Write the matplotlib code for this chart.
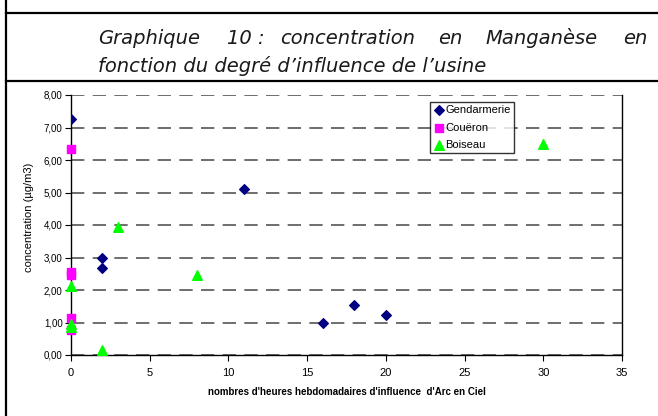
import numpy as np
import matplotlib.pyplot as plt
from matplotlib.lines import Line2D

# data
gend_x = [0, 2, 2, 11, 16, 18, 20]
gend_y = [7.25, 3.00, 2.68, 5.12, 1.00, 1.55, 1.22]
coue_x = [0, 0, 0, 0, 0]
coue_y = [6.35, 2.55, 2.45, 1.15, 0.78]
bois_x = [0, 0, 0, 2, 3, 8, 30]
bois_y = [2.12, 0.95, 0.85, 0.15, 3.95, 2.45, 6.50]

title_words = ["Graphique", "10 :", "concentration", "en", "Manganèse", "en"]
title_word_x = [98, 227, 280, 438, 485, 623]
title_line2 = "fonction du degré d’influence de l’usine"

plt.rcParams['font.family'] = ['Liberation Sans', 'DejaVu Sans']

W, H = 658, 416
fig = plt.figure(figsize=(W / 100, H / 100), dpi=100)

# frame lines of the document page
def hline(y, x0=6, x1=W):
    fig.add_artist(Line2D([x0 / W, x1 / W], [1 - y / H, 1 - y / H], color='black', lw=1.6))

hline(13)
hline(81)
fig.add_artist(Line2D([6 / W, 6 / W], [1, 0], color='black', lw=1.6))

# title, justified on the first line
tfont = dict(fontsize=14, style='italic', family='DejaVu Sans', color='#1a1a1a')
for w, xp in zip(title_words, title_word_x):
    fig.text(xp / W, 1 - 44 / H, w, ha='left', va='baseline', **tfont)
fig.text(98 / W, 1 - 72 / H, title_line2, ha='left', va='baseline', **tfont)

left, right, top, bottom = 71, 622, 95, 355
ax = fig.add_axes([left / W, 1 - bottom / H, (right - left) / W, (bottom - top) / H])

ax.scatter(gend_x, gend_y, marker='D', s=24, color='#000080', zorder=3, label='Gendarmerie')
ax.scatter(coue_x, coue_y, marker='s', s=34, color='#FF00FF', zorder=3, label='Couëron', clip_on=False)
ax.scatter(bois_x, bois_y, marker='^', s=48, color='#00FF00', zorder=4, label='Boiseau', clip_on=False)

ax.set_xlim(0, 35)
ax.set_ylim(0, 8)
ax.set_xticks(np.arange(0, 36, 5))
ax.set_yticks(np.arange(0, 9, 1))
ax.set_yticklabels([f"{v:.2f}".replace('.', ',') for v in np.arange(0, 9, 1)])
ax.tick_params(axis='x', labelsize=8, length=4, direction='out', pad=5)
ax.tick_params(axis='y', labelsize=7, length=4, direction='out', pad=2)
ax.yaxis.grid(True, linestyle=(0, (8, 5)), color='#555555', lw=1.2)
ax.set_axisbelow(True)
ax.spines['top'].set_visible(False)
for s in ['left', 'bottom', 'right']:
    ax.spines[s].set_linewidth(1.0)

ax.set_xlabel("nombres d'heures hebdomadaires d'influence  d'Arc en Ciel", fontsize=7,
              fontweight='bold', labelpad=7)
ax.set_ylabel("concentration (µg/m3)", fontsize=8)
ax.yaxis.set_label_coords(-0.068, 0.53)

leg = ax.legend(loc='upper left', bbox_to_anchor=((430 - left) / (right - left), (bottom - 102) / (bottom - top)),
                fontsize=8, frameon=True, fancybox=False, edgecolor='black', handletextpad=0.0,
                borderpad=0.3, labelspacing=0.65, handlelength=1.1, borderaxespad=0, scatterpoints=1)
leg.get_frame().set_linewidth(1.0)

fig.savefig('out.png', dpi=100)
